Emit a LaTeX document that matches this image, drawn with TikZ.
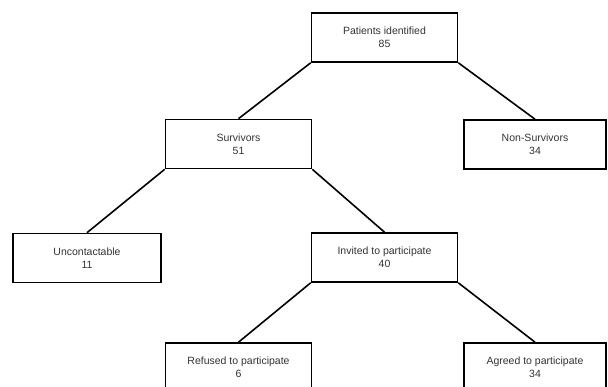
\documentclass[tikz,border=0pt]{standalone}
\usepackage{fontspec}
\setmainfont{Liberation Sans}
\begin{document}
\begin{tikzpicture}[x=1pt,y=-1pt,
  box/.style={draw,line width=1.6pt,minimum width=146pt,minimum height=49pt,
    align=center,inner sep=0pt,text=black!80,font=\fontsize{10.5}{13}\selectfont},
  link/.style={line width=1.6pt}]
\useasboundingbox (0,0) rectangle (608,387);
\node [box] (pat) at (384.5,37.5) {Patients identified\\85};
\node [box] (surv) at (238.5,144) {Survivors\\51};
\node [box,minimum width=142pt] (nonsurv) at (535,144.5) {Non-Survivors\\34};
\node [box,minimum width=148pt] (uncont) at (87,258) {Uncontactable\\11};
\node [box] (inv) at (384.5,257.5) {Invited to participate\\40};
\node [box] (ref) at (238.5,367.5) {Refused to participate\\6};
\node [box,minimum width=142pt] (agr) at (535,367.5) {Agreed to participate\\34};
% branches
\draw [link] (pat.south west) -- (surv.north);
\draw [link] (pat.south east) -- (nonsurv.north);
\draw [link] (surv.south west) -- (uncont.north);
\draw [link] (surv.south east) -- (inv.north);
\draw [link] (inv.south west) -- (ref.north);
\draw [link] (inv.south east) -- (agr.north);
\end{tikzpicture}
\end{document}
